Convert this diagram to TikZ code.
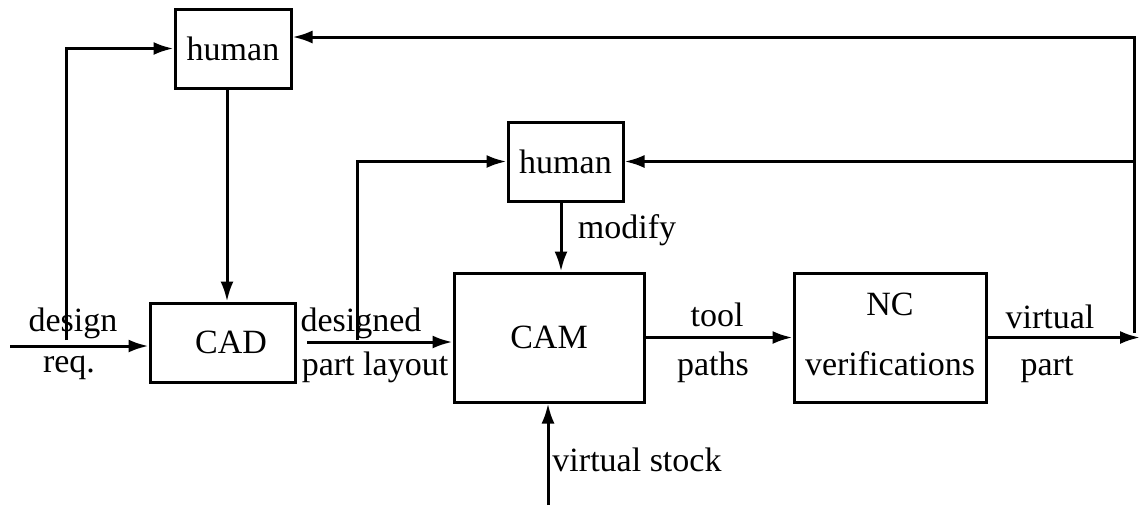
\documentclass[tikz,border=0pt]{standalone}
\usepackage{fontspec}
\setmainfont{Liberation Serif}
\usetikzlibrary{arrows.meta}
\tikzset{
  block/.style={draw, line width=1.5pt, inner sep=0pt, align=center,
                font=\fontsize{17}{30}\selectfont},
  lbl/.style={inner sep=0pt, font=\fontsize{17}{20}\selectfont},
  arr/.style={line width=1.5pt, -{Latex[length=10pt,width=6.5pt]}},
  wire/.style={line width=1.5pt}
}
\begin{document}
\begin{tikzpicture}[x=0.5pt,y=-0.5pt]
\useasboundingbox (0,0) rectangle (1140,505);

% blocks
\node[block, minimum width=58pt, minimum height=39.5pt] (h1) at (233,48.5) {human};
\node[block, minimum width=57.5pt, minimum height=39.5pt] (h2) at (565.5,161.5) {human};
\node[block, minimum width=72.5pt, minimum height=39.5pt] (cad) at (222.5,342.5) {\hspace*{8.5pt}CAD};
\node[block, minimum width=95pt, minimum height=64.5pt] (cam) at (549,337.5) {\raisebox{-2pt}{CAM}};
\node[block, minimum width=96pt, minimum height=64.5pt] (nc) at (890,337.5) {\raisebox{3.5pt}{NC}\\\raisebox{3.5pt}{verifications}};

% helper points
\coordinate (din) at (10,346);
\coordinate (fb1) at (66,340);
\coordinate (c1) at (227,0);
\coordinate (dl) at (307,342);
\coordinate (fb2) at (357,340);
\coordinate (c2) at (561,0);
\coordinate (vs) at (548,505);
\coordinate (out) at (1140,337.5);
\coordinate (rt) at (1134,333);
\coordinate (top) at (1134,37);

% connectors
\draw[arr] (din) -- (din -| cad.west);
\draw[arr] (fb1) |- (h1.west);
\draw[arr] (h1.south -| c1) -- (cad.north -| c1);
\draw[arr] (dl) -- (dl -| cam.west);
\draw[arr] (fb2) |- (h2.west);
\draw[arr] (h2.south -| c2) -- (cam.north -| c2);
\draw[arr] (cam.east) -- (nc.west);
\draw[arr] (nc.east) -- (out);
\draw[arr] (vs) -- (cam.south -| vs);
\draw[arr] (rt) -- (top) -- (top -| h1.east);
\draw[arr] (rt |- h2.east) -- (h2.east);

% labels
\node[lbl] (l1) at (73,323) {design};
\node[lbl] (l2) at (69,368) {req.};
\node[lbl] (l3) at (361,323) {designed};
\node[lbl] (l4) at (375,367) {part layout};
\node[lbl] (l5) at (627,230) {modify};
\node[lbl] (l6) at (717,315) {tool};
\node[lbl] (l7) at (713,367) {paths};
\node[lbl] (l8) at (1050,317) {virtual};
\node[lbl] (l9) at (1047,370) {part};
\node[lbl] (l10) at (637,460) {virtual stock};
\end{tikzpicture}
\end{document}
